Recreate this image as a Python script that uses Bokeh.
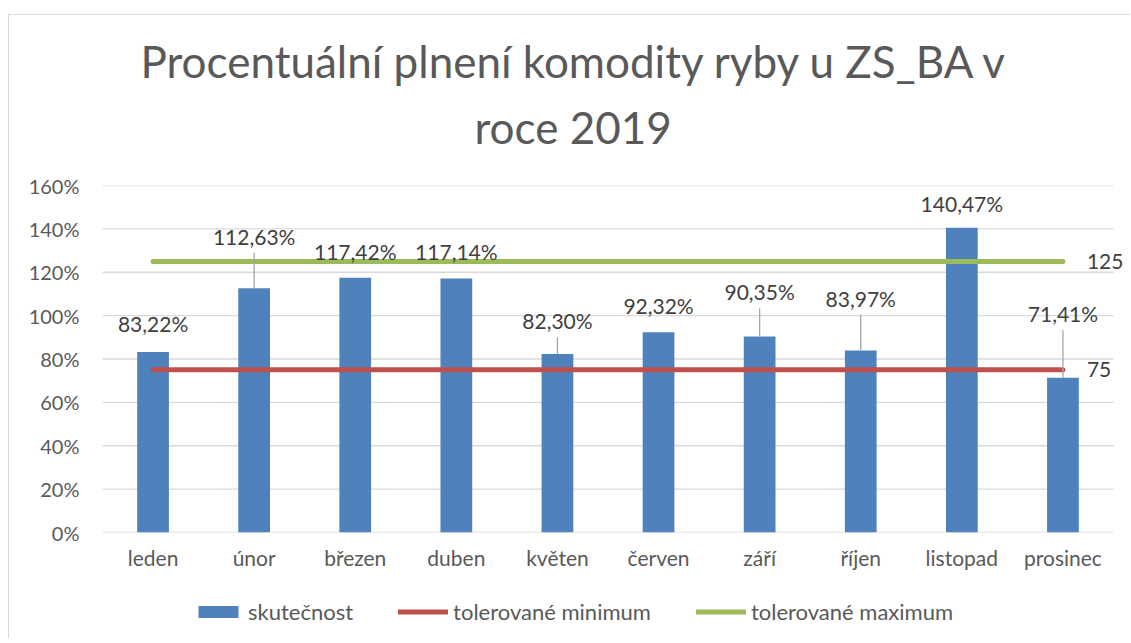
from bokeh.plotting import figure
from bokeh.layouts import column
from bokeh.models import (ColumnDataSource, Legend, LegendItem, Title, Range1d, FixedTicker)
from bokeh.embed import file_html
from bokeh.resources import INLINE
from bokeh.core.properties import value

# ---- data ----
months = ["leden", "únor", "březen", "duben", "květen", "červen", "září", "říjen", "listopad", "prosinec"]
actual = [83.22, 112.63, 117.42, 117.14, 82.30, 92.32, 90.35, 83.97, 140.47, 71.41]
tol_min = [75] * 10
tol_max = [125] * 10
y_ticks = [0, 20, 40, 60, 80, 100, 120, 140, 160]
title_lines = ["Procentuální plnení komodity ryby u ZS_BA v", "roce 2019"]
series_names = ["skutečnost", "tolerované minimum", "tolerované maximum"]

# ---- label placement (style) ----
label_lift = [13, 24, 12, 12.3, 15.3, 12.2, 20.6, 24.1, 11, 29.5]
has_leader = [0, 1, 0, 0, 1, 0, 1, 1, 0, 1]
leader_gap = 7.6

FONT = "Lato"
BLUE = "#4f81bd"
RED = "#c0504d"
GREEN = "#9bbb59"
GREY = "#595959"
DARK = "#404040"
BORDER = "1px solid #d9d9d9"

idx = list(range(len(months)))
labels = [("%.2f" % v).replace(".", ",") + "%" for v in actual]
src = ColumnDataSource(dict(
    x=idx, actual=actual, tmin=tol_min, tmax=tol_max, label=labels,
    label_y=[v + d for v, d in zip(actual, label_lift)],
))
lead_idx = [i for i, f in enumerate(has_leader) if f]
lead_src = ColumnDataSource(dict(
    x=lead_idx,
    y0=[actual[i] for i in lead_idx],
    y1=[actual[i] + label_lift[i] - leader_gap for i in lead_idx],
))
end_src = ColumnDataSource(dict(
    x=[idx[-1], idx[-1]], y=[tol_max[-1], tol_min[-1]],
    text=[str(tol_max[-1]), str(tol_min[-1])],
))
grid_src = ColumnDataSource(dict(
    x0=[idx[0] - 0.5] * len(y_ticks), x1=[idx[-1] + 0.5] * len(y_ticks), y=y_ticks,
))

FRAME_W = 1025
CAT_W = 101.0
p = figure(x_range=Range1d(-0.5, -0.5 + FRAME_W / CAT_W), y_range=Range1d(0, 160),
           frame_width=FRAME_W, frame_height=346,
           min_border_left=93, min_border_right=3, min_border_top=170, min_border_bottom=45,
           output_backend="svg", toolbar_location=None)
p.margin = (14, 0, 0, 8)
p.styles = {"border-left": BORDER, "border-top": BORDER}
p.outline_line_color = None
p.background_fill_color = "white"
p.xgrid.grid_line_color = None
p.ygrid.grid_line_color = None

# gridlines limited to the category span
p.segment(x0="x0", y0="y", x1="x1", y1="y", source=grid_src, line_color="#d9d9d9", line_width=1.3)

bar_style = dict(width=0.314, fill_color=BLUE, line_color=None)
min_style = dict(line_color=RED, line_width=5, line_cap="round")
max_style = dict(line_color=GREEN, line_width=5, line_cap="round")

p.vbar(x="x", top="actual", source=src, **bar_style)
p.line(x="x", y="tmin", source=src, **min_style)
p.line(x="x", y="tmax", source=src, **max_style)

p.segment(x0="x", y0="y0", x1="x", y1="y1", source=lead_src, line_color="#a6a6a6", line_width=1.3)
p.text(x="x", y="label_y", text="label", source=src, text_align="center", text_baseline="middle",
       text_font=value(FONT), text_font_size="21px", text_color=DARK)
p.text(x="x", y="y", text="text", source=end_src, x_offset=24, text_align="left",
       text_baseline="middle", text_font=value(FONT), text_font_size="21px", text_color=DARK)

# axes
p.xaxis.ticker = FixedTicker(ticks=idx)
p.xaxis.major_label_overrides = {i: m for i, m in zip(idx, months)}
p.yaxis.ticker = FixedTicker(ticks=y_ticks)
p.yaxis.major_label_overrides = {t: f"{t}%" for t in y_ticks}
for ax in (p.xaxis, p.yaxis):
    ax.axis_line_color = None
    ax.major_tick_line_color = None
    ax.minor_tick_line_color = None
    ax.major_tick_out = 0
    ax.minor_tick_out = 0
    ax.major_label_text_font = FONT
    ax.major_label_text_color = GREY
p.yaxis.major_label_text_font_size = "20px"
p.xaxis.major_label_text_font_size = "21px"
p.yaxis.major_label_standoff = 23
p.xaxis.major_label_standoff = 12

# title (two lines, left-aligned with offsets so the block is centred on the chart)
for line, standoff, offset in [(title_lines[1], 66, 372), (title_lines[0], -42, 38)]:
    t = Title(text=line, align="left", offset=offset, text_font=FONT, text_font_size="44px",
              text_font_style="normal", text_color=GREY, standoff=standoff)
    p.add_layout(t, "above")

# ---- legend strip (separate panel below the chart, so it is not clipped) ----
# its ranges are chosen so that the series themselves fall outside the view; only the legend shows
leg = figure(width=1120, height=62, x_range=Range1d(50, 51), y_range=Range1d(500, 501),
             x_axis_location=None, y_axis_location=None, min_border=0,
             output_backend="svg", toolbar_location=None)
leg.margin = (0, 0, 0, 8)
leg.styles = {"border-left": BORDER}
leg.outline_line_color = None
leg.xgrid.grid_line_color = None
leg.ygrid.grid_line_color = None
r_bar = leg.vbar(x="x", top="actual", source=src, **bar_style)
r_min = leg.line(x="x", y="tmin", source=src, **min_style)
r_max = leg.line(x="x", y="tmax", source=src, **max_style)

legend = Legend(items=[LegendItem(label=series_names[0], renderers=[r_bar]),
                       LegendItem(label=series_names[1], renderers=[r_min]),
                       LegendItem(label=series_names[2], renderers=[r_max])],
                orientation="horizontal", location=(91, 13),
                label_text_font=FONT, label_text_font_size="22px", label_text_color=GREY,
                glyph_width=50, glyph_height=15, label_standoff=5, spacing=45,
                border_line_color=None, background_fill_alpha=0, margin=0, padding=0)
leg.add_layout(legend, "center")

layout = column(p, leg, spacing=0)
open("out.html", "w").write(file_html(layout, INLINE))
